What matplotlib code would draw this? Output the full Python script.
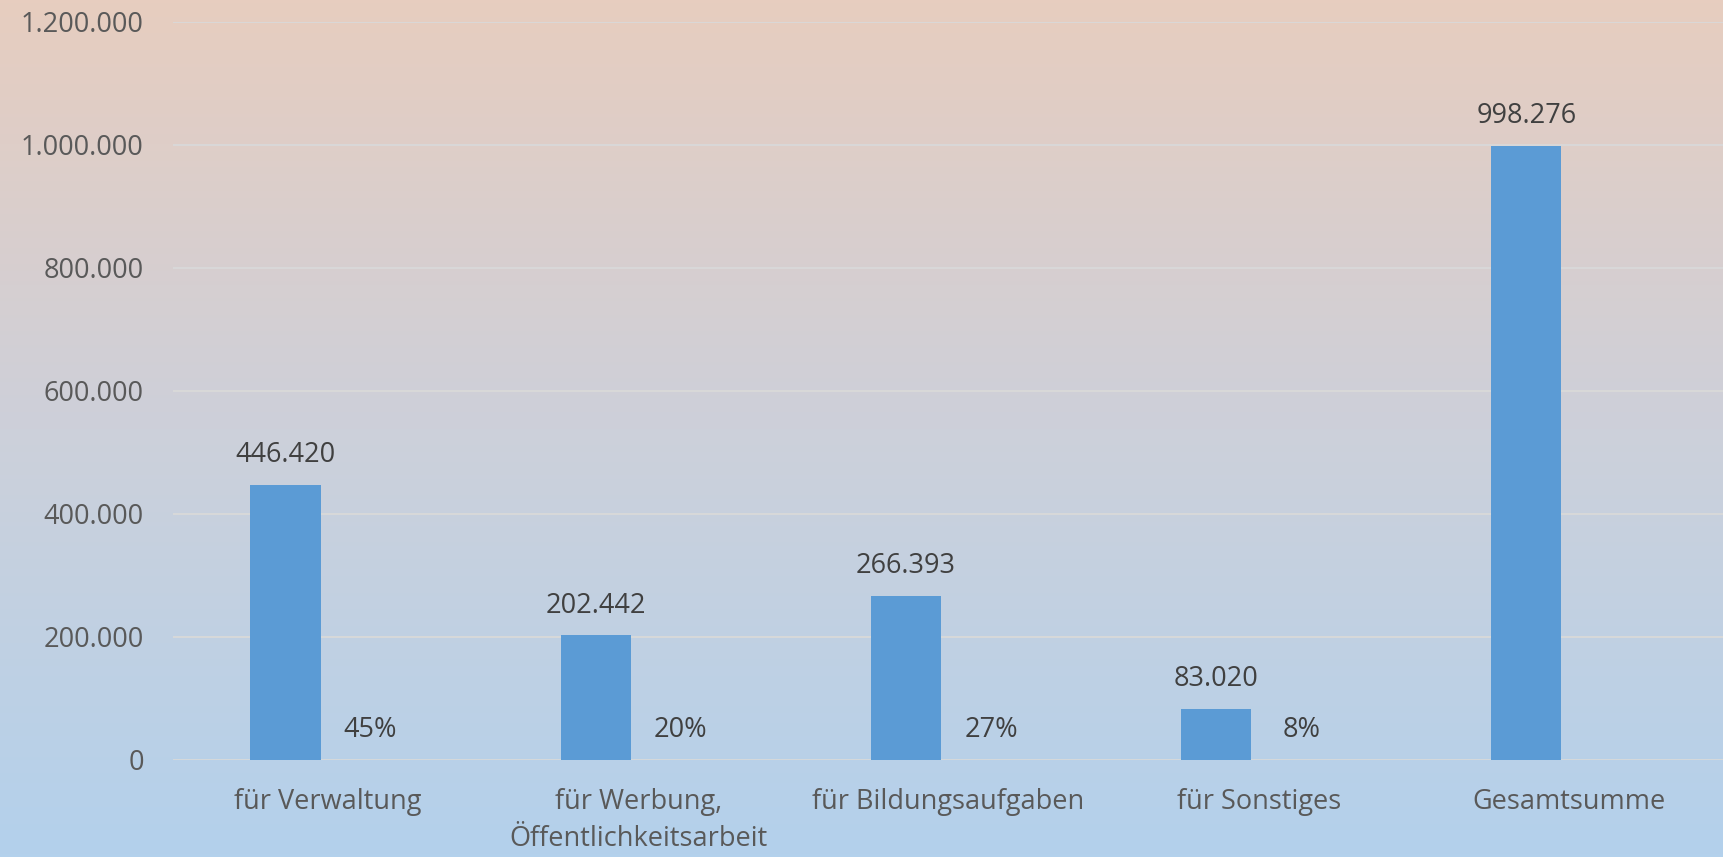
import numpy as np
import matplotlib.pyplot as plt
from matplotlib.colors import LinearSegmentedColormap

plt.rcParams['font.family'] = ['Open Sans', 'DejaVu Sans']

categories = ['für Verwaltung', 'für Werbung,\nÖffentlichkeitsarbeit', 'für Bildungsaufgaben',
              'für Sonstiges', 'Gesamtsumme']
amounts = [446420, 202442, 266393, 83020, 998276]
shares = [0.45, 0.20, 0.27, 0.08, None]
yticks = [0, 200000, 400000, 600000, 800000, 1000000, 1200000]


def de_fmt(v):
    return f'{v:,.0f}'.replace(',', '.')


fig = plt.figure(figsize=(17.24, 8.57), dpi=100)

# gradient background over whole figure
bg = fig.add_axes([0, 0, 1, 1])
cmap = LinearSegmentedColormap.from_list('bg', ['#B3D1EC', '#CDD0DA', '#E7CDBF'])
bg.imshow(np.linspace(0, 1, 256).reshape(-1, 1), aspect='auto', cmap=cmap,
          origin='lower', extent=[0, 1, 0, 1])
bg.axis('off')

ax = fig.add_axes([0.1003, 0.1132, 0.8997, 0.8615])
ax.patch.set_alpha(0)

fs = 19.5
x = np.arange(len(categories))
off = 0.137
w = 0.226
bars = ax.bar(x - off, amounts, width=w, color='#5B9BD5', zorder=3)
for xi, v in zip(x, amounts):
    ax.annotate(de_fmt(v), (xi - off, v), xytext=(0, 21.5), textcoords='offset points',
                ha='center', va='center', fontsize=fs, color='#404040')
for xi, s in zip(x, shares):
    if s is None:
        continue
    ax.annotate(f'{s:.0%}', (xi + off, 0), xytext=(0, 21.5), textcoords='offset points',
                ha='center', va='center', fontsize=fs, color='#404040')

ax.set_xlim(-0.5, len(categories) - 0.5)
ax.set_ylim(0, 1200000)
ax.set_yticks(yticks)
ax.set_yticklabels([de_fmt(v) for v in yticks], fontsize=fs, color='#595959')
ax.set_xticks(x)
ax.set_xticklabels(categories, fontsize=fs, color='#595959', linespacing=1.45)
ax.tick_params(axis='both', length=0)
ax.tick_params(axis='y', pad=21)
ax.tick_params(axis='x', pad=20)
ax.grid(axis='y', color='#D9D9D9', linewidth=1.3, zorder=0)
for s in ax.spines.values():
    s.set_visible(False)

fig.savefig('out.png', dpi=100)
